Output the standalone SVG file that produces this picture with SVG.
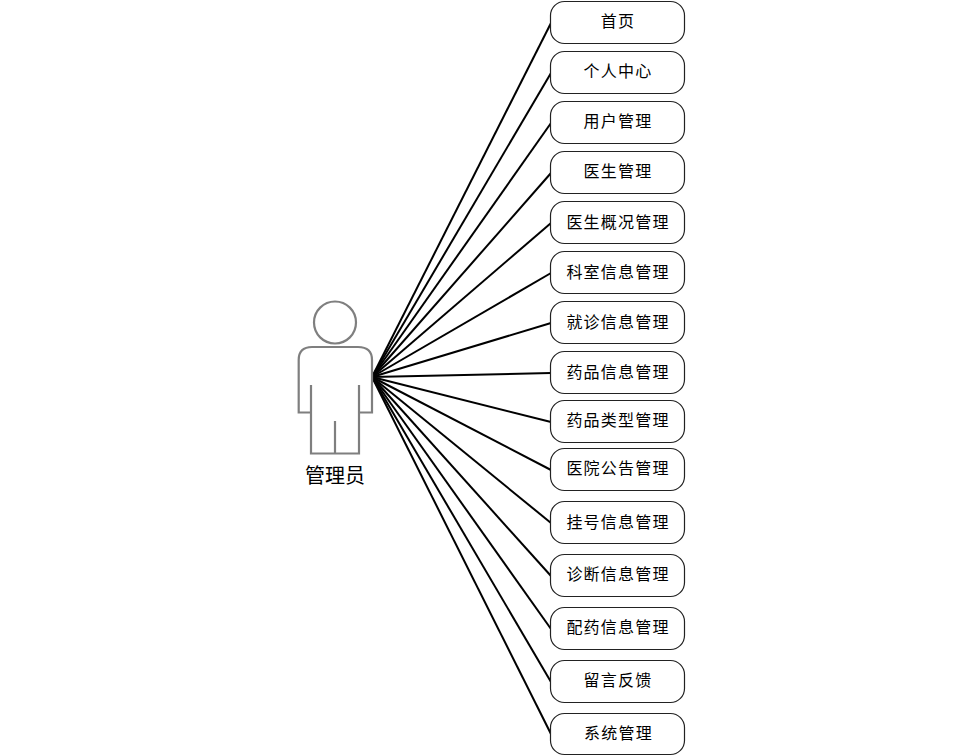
<svg xmlns="http://www.w3.org/2000/svg" width="961" height="756" viewBox="0 0 961 756">
<style>
.n{fill:#fff;stroke:#222;stroke-width:1.2}
.t{font-family:"Noto Sans CJK SC","Liberation Sans",sans-serif;font-size:16px;letter-spacing:1.2px;text-anchor:middle;fill:#000}
.c line{stroke:#000;stroke-width:2}
.p{fill:none;stroke:#7f7f7f;stroke-width:2.2}
</style>
<rect width="961" height="756" fill="#fff"/>
<g id="connectors" class="c">
<line x1="372" y1="377" x2="551" y2="23"/>
<line x1="372" y1="377" x2="551" y2="73"/>
<line x1="372" y1="377" x2="551" y2="123"/>
<line x1="372" y1="377" x2="551" y2="173"/>
<line x1="372" y1="377" x2="551" y2="223"/>
<line x1="372" y1="377" x2="551" y2="273"/>
<line x1="372" y1="377" x2="551" y2="323"/>
<line x1="372" y1="377" x2="551" y2="373"/>
<line x1="372" y1="377" x2="551" y2="422"/>
<line x1="372" y1="377" x2="551" y2="470"/>
<line x1="372" y1="377" x2="551" y2="523"/>
<line x1="372" y1="377" x2="551" y2="576"/>
<line x1="372" y1="377" x2="551" y2="629"/>
<line x1="372" y1="377" x2="551" y2="682"/>
<line x1="372" y1="377" x2="551" y2="734"/>
</g>
<g id="actor">
<circle class="p" cx="335" cy="322.5" r="21"/>
<path class="p" d="M311 385V412.5H298.7V360Q298.7 347 312 347H358Q372 347 372 360V412.5H359V385M311 412.5V453.5H359V412.5M335 421V453.5"/>
<text x="335" y="483" style="font-family:'Noto Sans CJK SC','Liberation Sans',sans-serif;font-size:20px;text-anchor:middle;fill:#000">管理员</text>
</g>
<g id="n1"><rect class="n" x="550.5" y="1.5" width="134" height="42" rx="14"/><text class="t" x="618" y="27">首页</text></g>
<g id="n2"><rect class="n" x="550.5" y="51.5" width="134" height="42" rx="14"/><text class="t" x="618" y="77">个人中心</text></g>
<g id="n3"><rect class="n" x="550.5" y="101.5" width="134" height="42" rx="14"/><text class="t" x="618" y="127">用户管理</text></g>
<g id="n4"><rect class="n" x="550.5" y="151.5" width="134" height="42" rx="14"/><text class="t" x="618" y="177">医生管理</text></g>
<g id="n5"><rect class="n" x="550.5" y="201.5" width="134" height="42" rx="14"/><text class="t" x="618" y="227.5">医生概况管理</text></g>
<g id="n6"><rect class="n" x="550.5" y="251.5" width="134" height="42" rx="14"/><text class="t" x="618" y="277.5">科室信息管理</text></g>
<g id="n7"><rect class="n" x="550.5" y="301.5" width="134" height="42" rx="14"/><text class="t" x="618" y="327.5">就诊信息管理</text></g>
<g id="n8"><rect class="n" x="550.5" y="351.5" width="134" height="42" rx="14"/><text class="t" x="618" y="377.5">药品信息管理</text></g>
<g id="n9"><rect class="n" x="550.5" y="400.5" width="134" height="42" rx="14"/><text class="t" x="618" y="426">药品类型管理</text></g>
<g id="n10"><rect class="n" x="550.5" y="448.5" width="134" height="42" rx="14"/><text class="t" x="618" y="474">医院公告管理</text></g>
<g id="n11"><rect class="n" x="550.5" y="501.5" width="134" height="42" rx="14"/><text class="t" x="618" y="527.5">挂号信息管理</text></g>
<g id="n12"><rect class="n" x="550.5" y="554.5" width="134" height="42" rx="14"/><text class="t" x="618" y="580">诊断信息管理</text></g>
<g id="n13"><rect class="n" x="550.5" y="607.5" width="134" height="42" rx="14"/><text class="t" x="618" y="633">配药信息管理</text></g>
<g id="n14"><rect class="n" x="550.5" y="660.5" width="134" height="42" rx="14"/><text class="t" x="618" y="686">留言反馈</text></g>
<g id="n15"><rect class="n" x="550.5" y="713.5" width="134" height="41" rx="14"/><text class="t" x="618.5" y="739">系统管理</text></g>
</svg>
